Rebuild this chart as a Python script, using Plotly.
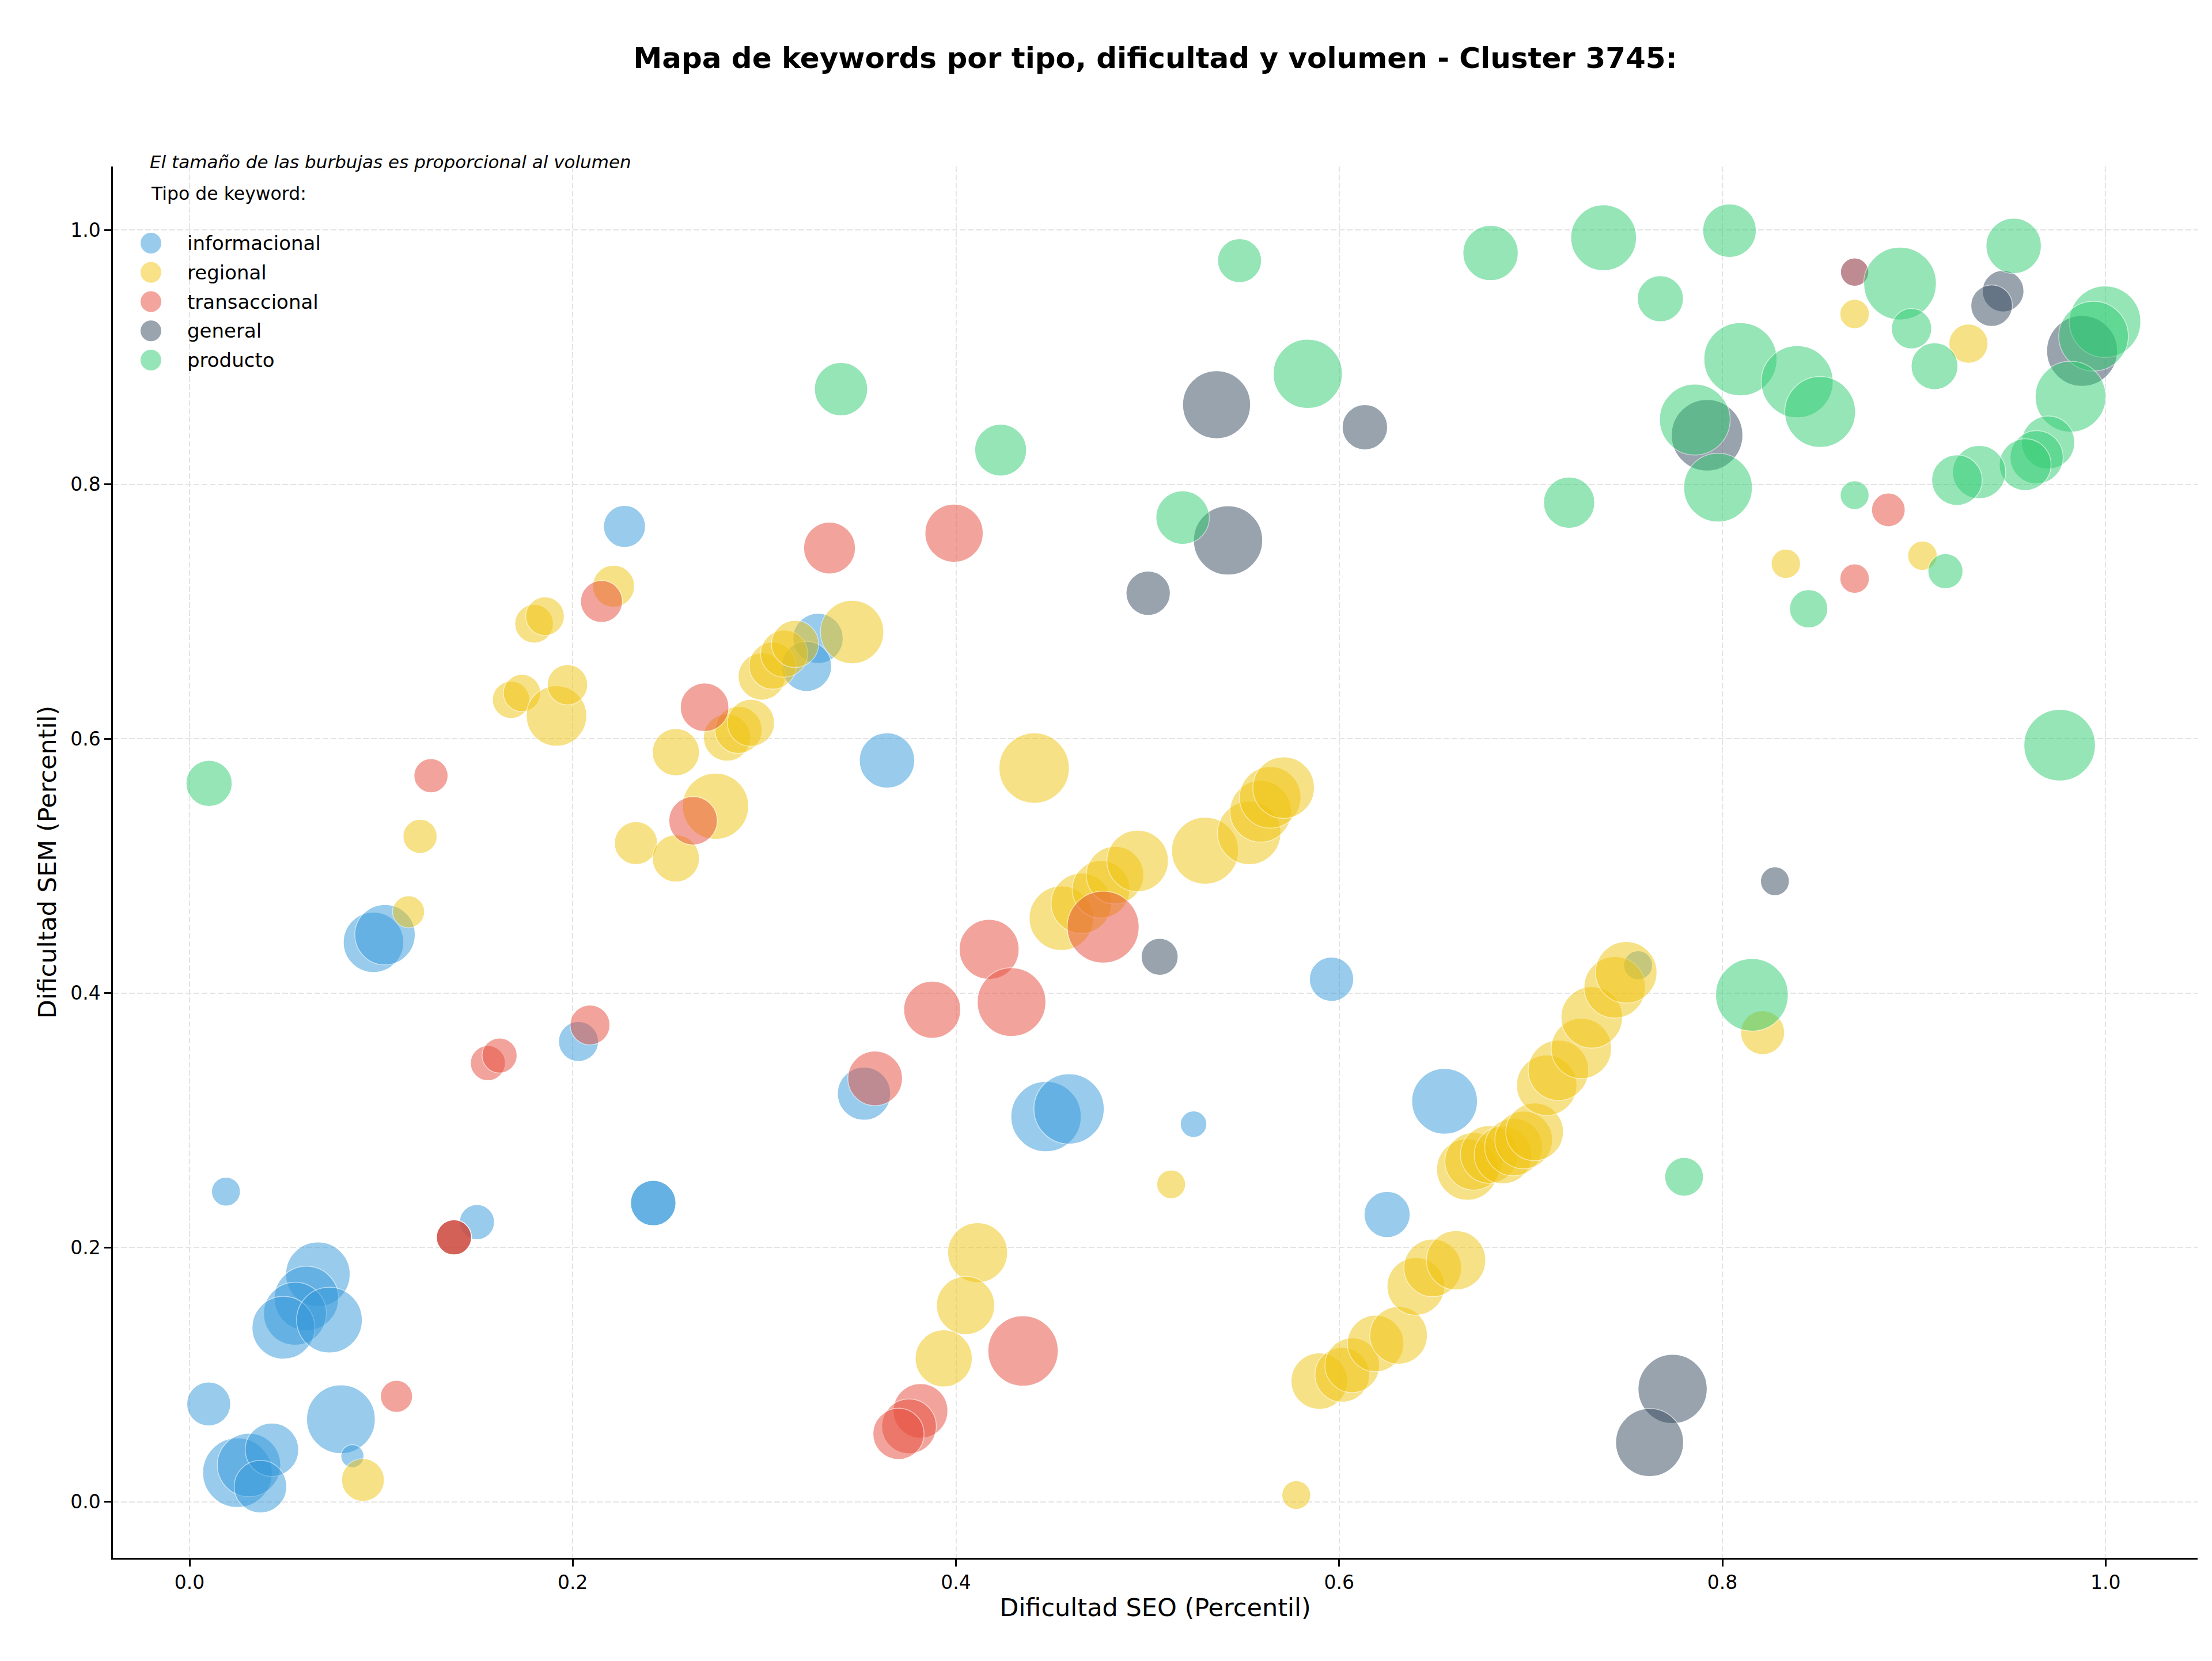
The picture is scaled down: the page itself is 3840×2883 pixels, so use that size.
import numpy as np
import plotly.graph_objects as go

# ---------------- data ----------------
categorias = ["informacional", "regional", "transaccional", "general", "producto"]
colores = ["#3498db", "#f1c40f", "#e74c3c", "#34495e", "#2ecc71"]

info_seo = [0.019, 0.010, 0.025, 0.031, 0.043, 0.037, 0.067, 0.061, 0.055, 0.049, 0.073, 0.079, 0.085,
            0.150, 0.203, 0.242, 0.242, 0.096, 0.102, 0.227, 0.328, 0.322, 0.364, 0.352, 0.447, 0.459,
            0.524, 0.596, 0.655, 0.625, 0.869, 0.756]
info_sem = [0.244, 0.077, 0.023, 0.029, 0.041, 0.012, 0.179, 0.160, 0.148, 0.137, 0.143, 0.065, 0.036,
            0.220, 0.362, 0.235, 0.235, 0.440, 0.446, 0.767, 0.679, 0.657, 0.583, 0.321, 0.303, 0.309,
            0.297, 0.411, 0.315, 0.226, 0.967, 0.422]
info_vol = [250, 580, 1460, 1210, 860, 830, 1250, 1250, 1190, 1190, 1300, 1420, 160,
            370, 480, 620, 620, 1100, 1100, 530, 760, 760, 920, 850, 1490, 1490,
            210, 590, 1300, 640, 240, 250]

reg_seo = [0.0905, 0.5776, 0.5123, 0.4113, 0.405, 0.3936, 0.5896, 0.6016, 0.6068, 0.619, 0.631, 0.640,
           0.6488, 0.661, 0.6669, 0.6702, 0.6783, 0.6855, 0.691, 0.6963, 0.702, 0.7083, 0.7144, 0.7264,
           0.7318, 0.7438, 0.7498, 0.821, 0.455, 0.4654, 0.4757, 0.483, 0.4948, 0.530, 0.553, 0.559,
           0.564, 0.571, 0.1203, 0.1143, 0.1678, 0.1735, 0.1915, 0.1972, 0.1798, 0.1855, 0.2213, 0.233,
           0.2538, 0.2538, 0.2745, 0.2805, 0.2865, 0.293, 0.2986, 0.3043, 0.3103, 0.316, 0.3458, 0.4408,
           0.869, 0.9284, 0.8331, 0.9044]
reg_sem = [0.0172, 0.0054, 0.2497, 0.196, 0.1545, 0.1128, 0.095, 0.100, 0.1074, 0.1246, 0.131, 0.1695,
           0.184, 0.190, 0.2614, 0.2678, 0.2732, 0.2728, 0.279, 0.2846, 0.291, 0.3276, 0.3394, 0.3566,
           0.381, 0.4046, 0.4164, 0.369, 0.459, 0.4706, 0.4817, 0.4928, 0.504, 0.512, 0.526, 0.543,
           0.554, 0.5616, 0.5233, 0.464, 0.6307, 0.636, 0.618, 0.6425, 0.6905, 0.6964, 0.720, 0.518,
           0.506, 0.5895, 0.547, 0.601, 0.607, 0.6126, 0.649, 0.6575, 0.667, 0.6746, 0.684, 0.577,
           0.934, 0.9107, 0.7376, 0.744]
reg_vol = [550, 250, 250, 1080, 1020, 980, 960, 900, 900, 960, 1000, 1000,
           1000, 1060, 1140, 1000, 1000, 1000, 1000, 1000, 1000, 1100, 1100, 1100,
           1140, 1140, 1140, 580, 1250, 1100, 1000, 1000, 1140, 1350, 1210, 1140,
           1140, 1140, 350, 310, 420, 420, 1100, 490, 450, 450, 530, 560,
           670, 670, 1320, 670, 670, 670, 670, 670, 670, 670, 1210, 1490,
           260, 460, 260, 260]

tra_seo = [0.108, 0.138, 0.138, 0.1557, 0.1618, 0.209, 0.126, 0.215, 0.2688, 0.2628, 0.334, 0.399,
           0.4173, 0.429, 0.3876, 0.3578, 0.4768, 0.435, 0.3815, 0.3755, 0.370, 0.869, 0.8866, 0.869]
tra_sem = [0.083, 0.208, 0.208, 0.345, 0.351, 0.375, 0.571, 0.708, 0.6248, 0.5356, 0.750, 0.7617,
           0.4345, 0.393, 0.387, 0.333, 0.452, 0.1187, 0.0716, 0.0594, 0.0535, 0.967, 0.780, 0.726]
tra_vol = [310, 370, 370, 370, 370, 480, 350, 530, 710, 710, 810, 1020,
           1080, 1420, 980, 900, 1560, 1490, 900, 900, 790, 240, 340, 260]

gen_seo = [0.536, 0.542, 0.5003, 0.6134, 0.5063, 0.8274, 0.774, 0.762, 0.792, 0.9465, 0.9405,
           0.9877, 0.138]
gen_sem = [0.8627, 0.756, 0.7145, 0.845, 0.4286, 0.488, 0.0888, 0.0467, 0.8387, 0.952, 0.9406,
           0.905, 0.208]
gen_vol = [1390, 1440, 590, 620, 410, 250, 1440, 1390, 1540, 520, 520, 1510, 370]

pro_seo = [0.0102, 0.340, 0.4233, 0.548, 0.5183, 0.5836, 0.679, 0.738, 0.7676, 0.720, 0.8037, 0.8094,
           0.839, 0.851, 0.7856, 0.7977, 0.952, 0.8927, 0.8987, 0.9107, 0.9997, 0.9937, 0.9817, 0.970,
           0.964, 0.958, 0.934, 0.9224, 0.869, 0.9164, 0.845, 0.976, 0.8154, 0.780]
pro_sem = [0.565, 0.875, 0.827, 0.976, 0.774, 0.887, 0.982, 0.994, 0.946, 0.7857, 0.9996, 0.8985,
           0.8808, 0.857, 0.851, 0.7975, 0.9876, 0.958, 0.9225, 0.893, 0.928, 0.9166, 0.869, 0.833,
           0.8214, 0.8156, 0.8097, 0.8034, 0.7916, 0.7318, 0.7023, 0.595, 0.3987, 0.2556]
pro_vol = [640, 850, 810, 580, 860, 1440, 920, 1300, 640, 790, 860, 1610,
           1560, 1510, 1510, 1420, 920, 1590, 490, 660, 1540, 1460, 1510, 850,
           850, 810, 850, 770, 250, 370, 440, 1540, 1590, 450]

series = {
    "informacional": (info_seo, info_sem, info_vol),
    "regional": (reg_seo, reg_sem, reg_vol),
    "transaccional": (tra_seo, tra_sem, tra_vol),
    "general": (gen_seo, gen_sem, gen_vol),
    "producto": (pro_seo, pro_sem, pro_vol),
}
# drawing order (bottom to top)
orden_dibujo = ["informacional", "general", "regional", "transaccional", "producto"]

titulo = "Mapa de keywords por tipo, dificultad y volumen - Cluster 3745:"
nota = "El tamaño de las burbujas es proporcional al volumen"
titulo_leyenda = "Tipo de keyword:"
x_label = "Dificultad SEO (Percentil)"
y_label = "Dificultad SEM (Percentil)"
ticks = [0.0, 0.2, 0.4, 0.6, 0.8, 1.0]

# ---------------- figure ----------------
W, H = 3840, 2883
L, R, T, B = 196, 25, 289, 179
PW, PH = W - L - R, H - T - B
SIZE_K = np.sqrt(10.0)  # bubble diameter (px) = K * sqrt(volume)
color_de = dict(zip(categorias, colores))

fig = go.Figure()
for cat in orden_dibujo:
    sx, sy, vol = series[cat]
    fig.add_trace(go.Scatter(
        x=sx, y=sy, mode="markers", name=cat, showlegend=False,
        marker=dict(size=SIZE_K * np.sqrt(np.array(vol, dtype=float)), sizemode="diameter",
                    color=color_de[cat], opacity=0.5, line=dict(color="white", width=1.5)),
    ))

def px_x(X):
    return (X - L) / PW

def px_y(Y):
    return (H - B - Y) / PH

shapes = []
annotations = [
    dict(text="<i>" + nota + "</i>", x=px_x(258), y=px_y(281), xref="paper", yref="paper",
         xanchor="left", yanchor="middle", showarrow=False, font=dict(size=31, color="black")),
    dict(text=titulo_leyenda, x=px_x(260), y=px_y(336), xref="paper", yref="paper",
         xanchor="left", yanchor="middle", showarrow=False, font=dict(size=31.5, color="black")),
]
r_leg = 18
for i, (cat, col) in enumerate(zip(categorias, colores)):
    yc = 422 + i * 50.75
    shapes.append(dict(type="circle", xref="paper", yref="paper",
                       x0=px_x(262 - r_leg), x1=px_x(262 + r_leg),
                       y0=px_y(yc + r_leg), y1=px_y(yc - r_leg),
                       fillcolor=col, opacity=0.5, line=dict(width=0)))
    annotations.append(dict(text=cat, x=px_x(323), y=px_y(yc), xref="paper", yref="paper",
                            xanchor="left", yanchor="middle", showarrow=False,
                            font=dict(size=34, color="black")))

axis_common = dict(
    tickvals=ticks, ticktext=[f"{t:.1f}" for t in ticks],
    ticks="outside", ticklen=12, tickwidth=2.5, tickcolor="black",
    showline=True, linewidth=2.5, linecolor="black", mirror=False,
    showgrid=True, gridcolor="#e4e4e4", gridwidth=2, griddash="10px,4px",
    zeroline=False, tickfont=dict(size=33, color="black"),
)

fig.update_layout(
    width=W, height=H,
    margin=dict(l=L, r=R, t=T, b=B),
    paper_bgcolor="white", plot_bgcolor="white",
    font=dict(family="DejaVu Sans", color="black"),
    title=dict(text="<b>" + titulo + "</b>", x=0.5, xref="paper", y=1 - 100 / H, yanchor="middle",
               xanchor="center", font=dict(size=50, color="black")),
    xaxis=dict(range=[-0.04, 1.048], title=dict(text=x_label, font=dict(size=43), standoff=10),
               **axis_common),
    yaxis=dict(range=[-0.044, 1.05], title=dict(text=y_label, font=dict(size=43), standoff=12),
               **axis_common),
    shapes=shapes, annotations=annotations, showlegend=False,
)

fig.write_html("out.html")
